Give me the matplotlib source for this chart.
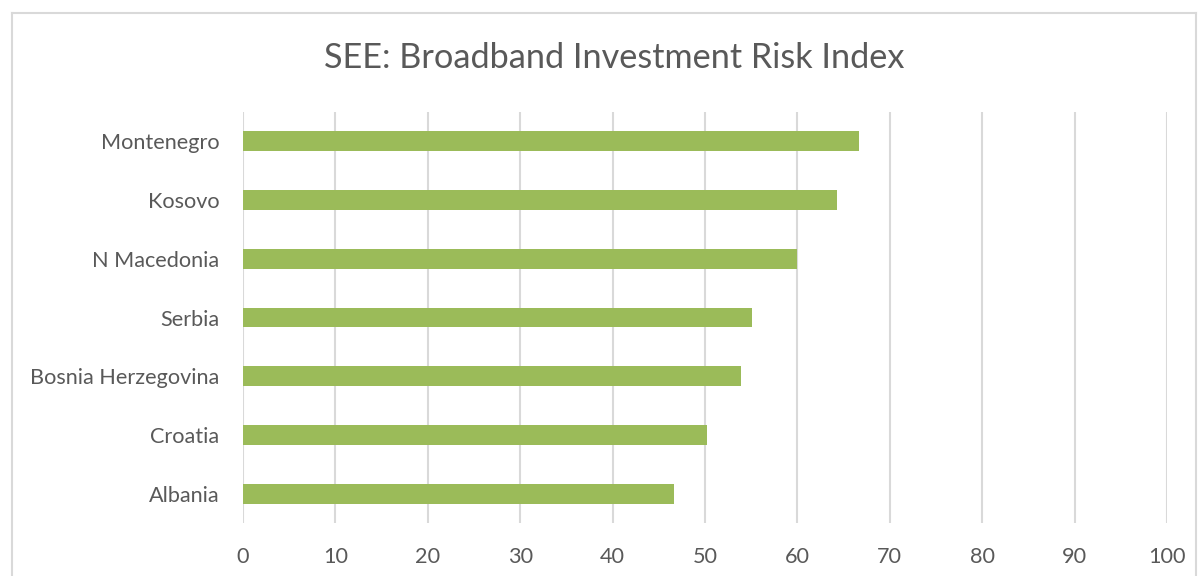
import matplotlib
matplotlib.use('Agg')
import matplotlib.pyplot as plt
from matplotlib.lines import Line2D

# data, bottom to top as drawn
countries = ['Albania', 'Croatia', 'Bosnia Herzegovina', 'Serbia',
             'N Macedonia', 'Kosovo', 'Montenegro']
risk_index = [46.6, 50.2, 53.9, 55.1, 60.0, 64.3, 66.7]
x_ticks = [0, 10, 20, 30, 40, 50, 60, 70, 80, 90, 100]

text_color = '#595959'
grid_color = '#D9D9D9'
bar_color = '#9BBB59'

plt.rcParams['font.family'] = ['Lato', 'DejaVu Sans']

fig = plt.figure(figsize=(12.02, 5.76), dpi=100)
ax = fig.add_axes([243 / 1202, 1 - 523 / 576, 924 / 1202, 411 / 576])

ax.barh(range(len(countries)), risk_index, height=0.34, color=bar_color, zorder=3)
ax.set_ylim(-0.5, len(countries) - 0.5)
ax.set_xlim(0, 100)
ax.set_xticks(x_ticks)
ax.set_yticks(range(len(countries)))
ax.set_yticklabels(countries)

ax.grid(axis='x', color=grid_color, linewidth=1.5, zorder=0)
for s in ax.spines.values():
    s.set_visible(False)
ax.tick_params(axis='both', length=0, labelsize=15.6, colors=text_color)
ax.tick_params(axis='y', pad=17)
ax.tick_params(axis='x', pad=17)

fig.text(614 / 1202, 1 - 58 / 576, 'SEE: Broadband Investment Risk Index',
         ha='center', va='center', fontsize=24.7, color=text_color)

# chart area border (runs off the bottom of the picture)
fig.add_artist(Line2D([12 / 1202, 12 / 1202], [0, 1 - 13 / 576], color=grid_color, lw=1.5))
fig.add_artist(Line2D([12 / 1202, 1196 / 1202], [1 - 13 / 576, 1 - 13 / 576], color=grid_color, lw=1.5))
fig.add_artist(Line2D([1196 / 1202, 1196 / 1202], [0, 1 - 13 / 576], color=grid_color, lw=1.5))

plt.savefig('out.png', dpi=100)
